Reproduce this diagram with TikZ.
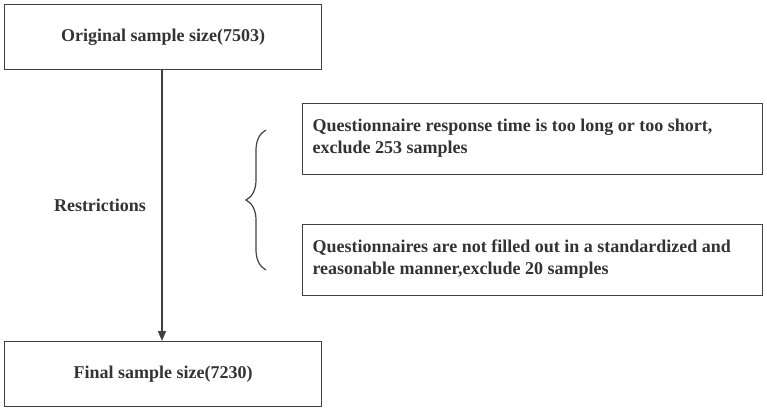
\documentclass[tikz,border=0pt]{standalone}
\usepackage{fontspec}
\setmainfont{Liberation Serif}
\usetikzlibrary{arrows.meta,decorations.pathreplacing}
\definecolor{ink}{HTML}{333333}
\definecolor{edge}{HTML}{404040}
\begin{document}
\begin{tikzpicture}[x=1pt,y=-1pt,
  boxstyle/.style={draw=edge,line width=1.4pt,text=ink,font=\fontsize{18}{22}\selectfont\bfseries},
  txt/.style={text=ink,font=\fontsize{18}{22}\selectfont\bfseries}]
\useasboundingbox (0,0) rectangle (767,410);
\node[boxstyle,minimum width=317pt,minimum height=65pt,anchor=north west] (orig) at (4,4) {Original sample size(7503)};
\node[boxstyle,minimum width=317pt,minimum height=65pt,anchor=north west] (final) at (4,341) {Final sample size(7230)};
\draw[edge,line width=1.4pt,-{Triangle[length=10pt,width=8pt]}] (orig.south -| 162,0) -- (final.north -| 162,0);
\node[txt] (restr) at (100,205) {Restrictions};
\node[draw=edge,line width=1.4pt,minimum width=460pt,minimum height=71pt,anchor=north west] (b1) at (302,103) {};
\node[draw=edge,line width=1.4pt,minimum width=460pt,minimum height=71pt,anchor=north west] (b2) at (302,224) {};
\node[txt,align=left,anchor=west] (t1) at (309,138.5) {Questionnaire response time is too long or too short,\\exclude 253 samples};
\node[txt,align=left,anchor=west] (t2) at (309,259.5) {Questionnaires are not filled out in a standardized and\\reasonable manner,exclude 20 samples};
\coordinate (bt) at (266,130);
\coordinate (bb) at (266,270);
\draw[edge,line width=1.2pt,decorate,decoration={brace,amplitude=20pt}] (bb) -- (bt);
\end{tikzpicture}
\end{document}
